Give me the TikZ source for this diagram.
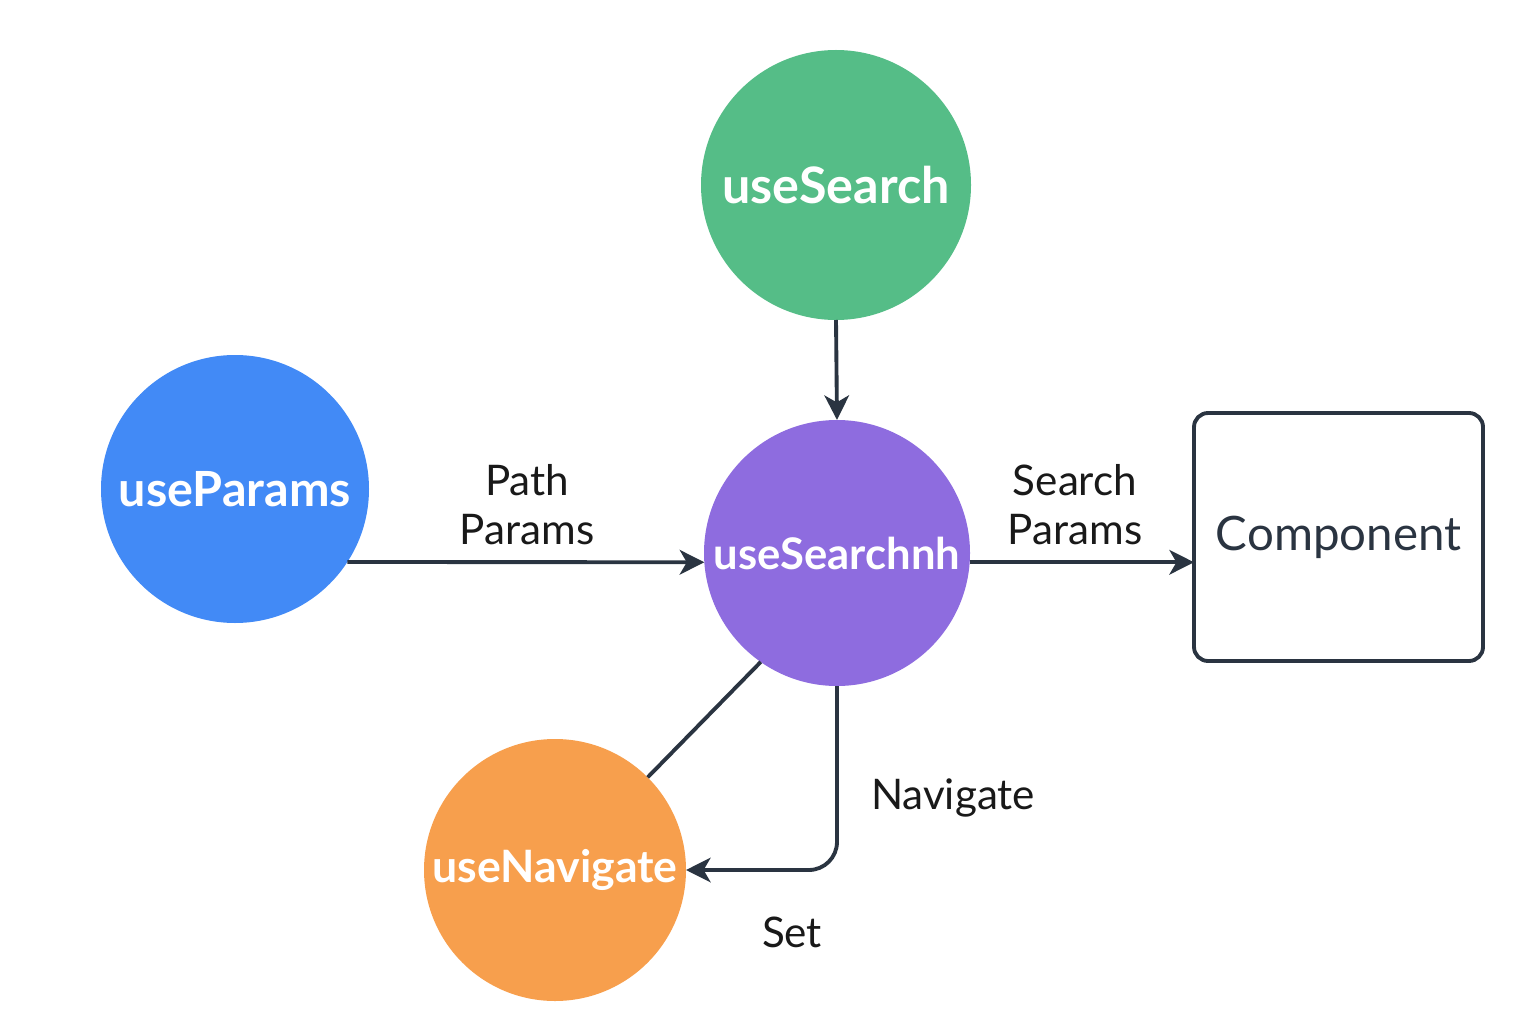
\documentclass[tikz,border=0pt]{standalone}
\usepackage{fontspec}
\setmainfont{Lato}
\usetikzlibrary{arrows.meta}

\definecolor{hookgreen}{HTML}{55BD87}
\definecolor{hookblue}{HTML}{428AF6}
\definecolor{hookpurple}{HTML}{8E6CDF}
\definecolor{hookorange}{HTML}{F79F4D}
\definecolor{linedark}{HTML}{2A3441}

\newcommand{\hooktext}[1]{\makebox[0pt]{#1}}

\begin{document}
\begin{tikzpicture}[inner sep=0pt,outer sep=0pt,line width=1.1pt,
hookcirc/.style={circle,minimum size=2.66cm,text=white,font=\fontsize{14}{16}\selectfont\bfseries},
compblock/.style={draw=linedark,rectangle,rounded corners=4pt,minimum width=2.89cm,minimum height=2.48cm,line width=1.1pt,text=linedark,font=\fontsize{13.5}{16}\selectfont},
lbl/.style={align=center,text=black!90,font=\fontsize{12}{14}\selectfont},
conn/.style={draw=linedark,-{Stealth[length=7pt,width=7pt,inset=2pt]}}]

\useasboundingbox (0,0) rectangle (15.36,10.24);

\draw (8.36,8.39) node[hookcirc,fill=hookgreen,minimum size=2.7cm,font=\fontsize{14.3}{16}\selectfont\bfseries] (useSearch) {\hooktext{useSearch}};
\draw (2.35,5.35) node[hookcirc,fill=hookblue,minimum size=2.68cm,font=\fontsize{13.8}{16}\selectfont\bfseries] (useParams) {\hooktext{useParams}};
\draw (8.37,4.71) node[hookcirc,fill=hookpurple,font=\fontsize{12.4}{16}\selectfont\bfseries] (useSearchnh) {\hooktext{useSearchnh}};
\draw (5.55,1.54) node[hookcirc,fill=hookorange,minimum size=2.62cm,font=\fontsize{12.7}{16}\selectfont\bfseries] (useNavigate) {\hooktext{useNavigate}};
\draw (13.385,4.87) node[compblock] (comp) {Component};

\draw (5.27,5.19) node[lbl] (pathlbl) {Path\\Params};
\draw (10.75,5.19) node[lbl] (searchlbl) {Search\\Params};
\draw (9.53,2.26) node[lbl] (navlbl) {Navigate};
\draw (7.92,0.92) node[lbl] (setlbl) {Set};

\draw[conn] (useSearch.south) -- (useSearchnh.north);
\draw[conn] (useParams.-33) -- (useSearchnh.-176);
\draw[conn] (useSearchnh.-4) -- (useSearchnh.-4 -| comp.west);
\draw[linedark] (useSearchnh.235) -- (useNavigate.45);
\draw[conn,rounded corners=8pt] (useSearchnh.south) |- (useNavigate.east);
\end{tikzpicture}
\end{document}
